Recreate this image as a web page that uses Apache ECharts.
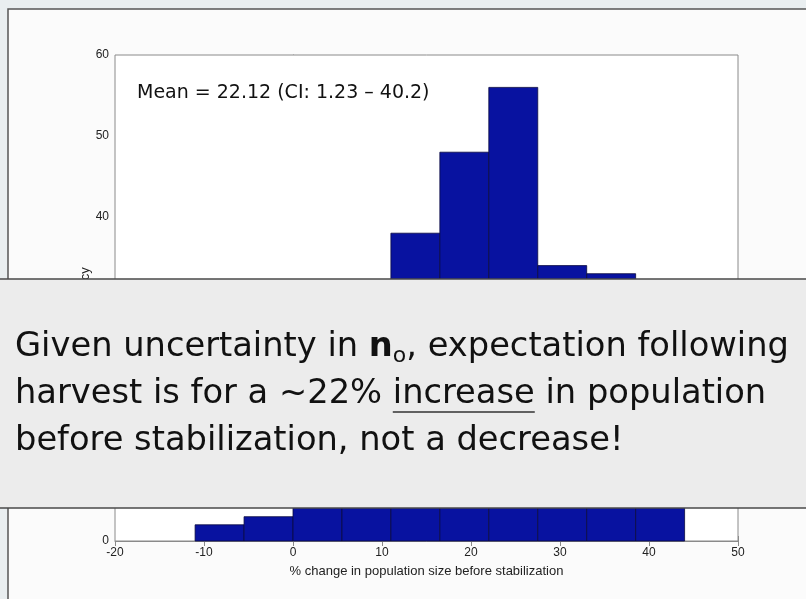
<!DOCTYPE html>
<html>
<head>
<meta charset="utf-8">
<script src="https://cdn.jsdelivr.net/npm/echarts@6/dist/echarts.min.js"></script>
<style>
html,body{margin:0;padding:0;background:#e9eef0;}
#c{width:806px;height:599px;}
</style>
</head>
<body>
<div id="c"></div>
<script>
// Histogram bins (% change) and counts
var binStart = [-11, -5.5, 0, 5.5, 11, 16.5, 22, 27.5, 33, 38.5];
var binEnd   = [-5.5, 0, 5.5, 11, 16.5, 22, 27.5, 33, 38.5, 44];
var counts   = [2, 3, 8, 18, 38, 48, 56, 34, 33, 10];
var xTicks = [-20, 50, 10];   // min, max, interval
var yTicks = [0, 60, 10];
var annotation = 'Mean = 22.12 (CI: 1.23 \u2013 40.2)';
var xLabel = '% change in population size before stabilization';
var yLabel = 'Frequency';
var line2a = 'harvest is for a ~22% ';
var line2u = 'increase';
var line2b = ' in population';

var data = binStart.map(function (s, i) { return [s, binEnd[i], counts[i]]; });

var bigFont = '33.7px "DejaVu Sans"';
var cv = document.createElement('canvas').getContext('2d');
cv.font = bigFont;
var ulStart = 15 + cv.measureText(line2a).width;
var ulEnd = ulStart + cv.measureText(line2u).width;

var chart = echarts.init(document.getElementById('c'));
var axisFont = {fontFamily: 'Liberation Sans', fontSize: 12, color: '#222'};
chart.setOption({
  backgroundColor: '#e9eef0',
  animation: false,
  grid: {left: 115, right: 68, top: 55, bottom: 58, show: true, borderColor: '#8a8a8a', borderWidth: 1, backgroundColor: '#ffffff', z: 1},
  xAxis: [{
    type: 'value', min: xTicks[0], max: xTicks[1], interval: xTicks[2],
    name: xLabel, nameLocation: 'middle', nameGap: 24,
    nameTextStyle: {fontFamily: 'Liberation Sans', fontSize: 13, color: '#222'},
    axisLine: {show: true, lineStyle: {color: '#8a8a8a'}},
    axisTick: {show: true, inside: true, length: 5, lineStyle: {color: '#8a8a8a'}},
    axisLabel: Object.assign({margin: 6}, axisFont),
    splitLine: {show: false}
  }, {
    type: 'value', position: 'top', min: xTicks[0], max: xTicks[1], interval: xTicks[2],
    axisLine: {show: false}, axisTick: {show: true, inside: true, length: 5, lineStyle: {color: '#8a8a8a'}},
    axisLabel: {show: false}, splitLine: {show: false}
  }],
  yAxis: [{
    type: 'value', min: yTicks[0], max: yTicks[1], interval: yTicks[2],
    name: yLabel, nameLocation: 'middle', nameGap: 23, nameMoveOverlap: false,
    nameTextStyle: {fontFamily: 'Liberation Sans', fontSize: 13, color: '#222'},
    axisLine: {show: true, lineStyle: {color: '#8a8a8a'}},
    axisTick: {show: true, inside: true, length: 5, lineStyle: {color: '#8a8a8a'}},
    axisLabel: Object.assign({margin: 6}, axisFont),
    splitLine: {show: false}
  }, {
    type: 'value', position: 'right', min: yTicks[0], max: yTicks[1], interval: yTicks[2],
    axisLine: {show: false}, axisTick: {show: true, inside: true, length: 5, lineStyle: {color: '#8a8a8a'}},
    axisLabel: {show: false}, splitLine: {show: false}
  }],
  series: [{
    type: 'custom',
    data: data,
    encode: {x: [0, 1], y: 2},
    z: 3,
    renderItem: function (params, api) {
      var p0 = api.coord([api.value(0), api.value(2)]);
      var p1 = api.coord([api.value(1), 0]);
      return {
        type: 'rect',
        shape: {x: p0[0], y: p0[1], width: p1[0] - p0[0], height: p1[1] - p0[1]},
        style: {fill: '#0812a0', stroke: '#0a0a40', lineWidth: 0.8}
      };
    }
  }],
  graphic: [
    // slide frame
    {type: 'rect', z: -10, silent: true, shape: {x: 8, y: 9, width: 820, height: 620},
     style: {fill: '#fbfbfb', stroke: '#555', lineWidth: 1.5}},
    // annotation
    {type: 'text', z: 10, x: 137, y: 84,
     style: {text: annotation, fontFamily: 'DejaVu Sans', fontSize: 19, fill: '#111'}},
    // overlay box
    {type: 'rect', z: 100, shape: {x: -2, y: 279, width: 812, height: 229},
     style: {fill: '#ececec', stroke: '#4a4a4a', lineWidth: 1.5}},
    {type: 'text', z: 101, x: 15, y: 324,
     style: {
       text: 'Given uncertainty in {b|n}{s|o}, expectation following\n' + line2a + line2u + line2b + '\nbefore stabilization, not a decrease!',
       fontFamily: 'DejaVu Sans', fontSize: 33.7, lineHeight: 47, fill: '#111',
       rich: {
         b: {fontFamily: 'DejaVu Sans', fontSize: 33.7, fontWeight: 'bold', fill: '#111', lineHeight: 47},
         s: {fontFamily: 'DejaVu Sans', fontSize: 22, fill: '#111', padding: [18, 0, 0, 0], lineHeight: 47}
       }
     }},
    {type: 'line', z: 101, shape: {x1: ulStart, y1: 412, x2: ulEnd, y2: 412},
     style: {stroke: '#333', lineWidth: 1.5}}
  ]
});
</script>
</body>
</html>
